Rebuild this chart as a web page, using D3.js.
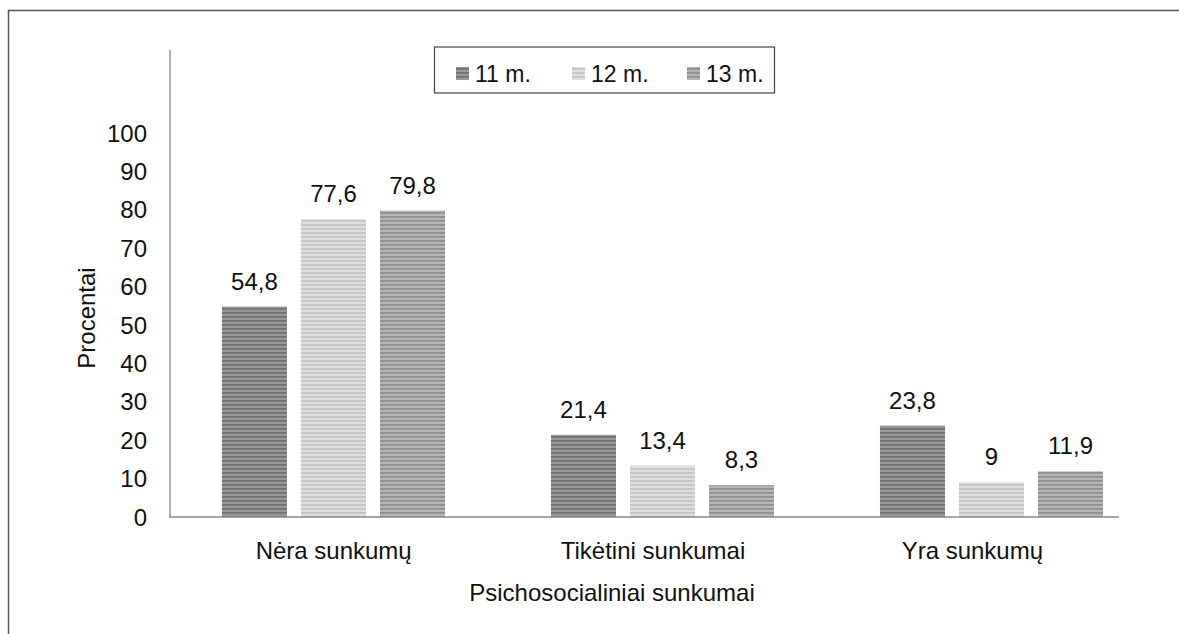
<!DOCTYPE html>
<html>
<head>
<meta charset="utf-8">
<script src="https://cdn.jsdelivr.net/npm/d3@7"></script>
<style>
  html, body { margin: 0; padding: 0; background: #fff; }
  svg { display: block; font-family: "Liberation Sans", Arial, sans-serif; }
</style>
</head>
<body>
<svg id="chart" width="1179" height="634"></svg>
<script>
const categories = ["Nėra sunkumų", "Tikėtini sunkumai", "Yra sunkumų"];
const seriesNames = ["11 m.", "12 m.", "13 m."];
const values11 = [54.8, 21.4, 23.8];
const values12 = [77.6, 13.4, 9];
const values13 = [79.8, 8.3, 11.9];
const yTicks = [0, 10, 20, 30, 40, 50, 60, 70, 80, 90, 100];
const yTitle = "Procentai";
const xTitle = "Psichosocialiniai sunkumai";

const series = [values11, values12, values13];
const svg = d3.select("#chart");
const FS = 24;

// patterns
const pat = [
  {id: "p0", a: "#727272", b: "#999999"},
  {id: "p1", a: "#c6c6c6", b: "#dedede"},
  {id: "p2", a: "#909090", b: "#b6b6b6"}
];
const defs = svg.append("defs");
pat.forEach(p => {
  const pt = defs.append("pattern").attr("id", p.id).attr("patternUnits", "userSpaceOnUse")
    .attr("width", 8).attr("height", 4);
  pt.append("rect").attr("width", 8).attr("height", 4).attr("fill", p.b);
  pt.append("rect").attr("y", 0).attr("width", 8).attr("height", 1.8).attr("fill", p.a);
});

// outer frame
svg.append("rect").attr("x", 8.5).attr("y", 10.5).attr("width", 1200).attr("height", 700)
  .attr("fill", "none").attr("stroke", "#555").attr("stroke-width", 1.5);

const y = d3.scaleLinear().domain([0, 100]).range([517, 133]);
const xLabels = d3.scaleBand().domain(categories).range([174, 1132]);
const xBars = d3.scaleBand().domain(categories).range([169, 1156]);
const xSub = d3.scaleBand().domain(seriesNames).range([0, xBars.bandwidth()])
  .paddingInner(0.177).paddingOuter(0.67);

// bars
const g = svg.append("g");
categories.forEach((c, ci) => {
  series.forEach((s, si) => {
    const x0 = xBars(c) + xSub(seriesNames[si]);
    const w = xSub.bandwidth();
    g.append("rect").attr("x", x0).attr("y", y(s[ci])).attr("width", w)
      .attr("height", y(0) - y(s[ci])).attr("fill", `url(#p${si})`);
    g.append("text").attr("x", x0 + w / 2).attr("y", y(s[ci]) - 17)
      .attr("text-anchor", "middle").attr("font-size", FS).attr("fill", "#111")
      .text(String(s[ci]).replace(".", ","));
  });
});

// axes
svg.append("line").attr("x1", 170).attr("x2", 170).attr("y1", 50).attr("y2", y(0))
  .attr("stroke", "#888").attr("stroke-width", 1.3);
svg.append("line").attr("x1", 169).attr("x2", 1119).attr("y1", y(0)).attr("y2", y(0))
  .attr("stroke", "#888").attr("stroke-width", 1.5);

svg.append("g").selectAll("text").data(yTicks).join("text")
  .attr("x", 147).attr("y", d => y(d)).attr("dy", "0.36em")
  .attr("text-anchor", "end").attr("font-size", FS).attr("fill", "#111").text(d => d);

svg.append("g").selectAll("text").data(categories).join("text")
  .attr("x", d => xLabels(d) + xLabels.bandwidth() / 2).attr("y", 559)
  .attr("text-anchor", "middle").attr("font-size", FS).attr("fill", "#111").text(d => d);

svg.append("text").attr("x", 612).attr("y", 601).attr("text-anchor", "middle")
  .attr("font-size", FS).attr("fill", "#111").text(xTitle);

svg.append("text").attr("transform", "translate(95,318) rotate(-90)").attr("text-anchor", "middle")
  .attr("font-size", FS).attr("fill", "#111").text(yTitle);

// legend
const lg = svg.append("g");
lg.append("rect").attr("x", 434.5).attr("y", 47).attr("width", 340).attr("height", 46)
  .attr("fill", "#fff").attr("stroke", "#444").attr("stroke-width", 1.2);
const legX = [456, 572, 687];
seriesNames.forEach((n, i) => {
  lg.append("rect").attr("x", legX[i]).attr("y", 67).attr("width", 13).attr("height", 13)
    .attr("fill", `url(#p${i})`);
  lg.append("text").attr("x", legX[i] + 19).attr("y", 82).attr("font-size", 23)
    .attr("fill", "#111").text(n);
});
</script>
</body>
</html>
